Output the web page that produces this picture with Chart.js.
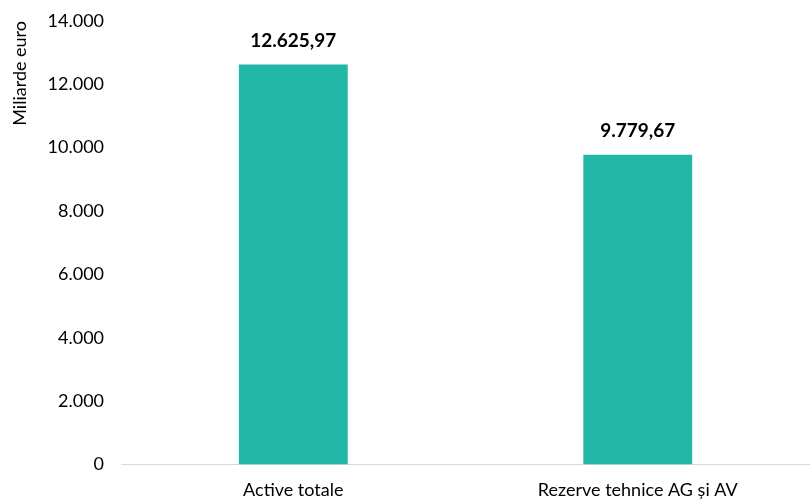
<!DOCTYPE html>
<html><head><meta charset="utf-8">
<script src="https://cdn.jsdelivr.net/npm/chart.js@4/dist/chart.umd.min.js"></script>
<style>html,body{margin:0;padding:0;background:#fff}#wrap{width:810px;height:501px}</style>
</head><body><div id="wrap"><canvas id="c" width="810" height="501"></canvas></div>
<script>
const categories = ["Active totale", "Rezerve tehnice AG și AV"];
const values = [12625.97, 9779.67];
const yTicks = [0, 2000, 4000, 6000, 8000, 10000, 12000, 14000];
const yTitle = "Miliarde euro";

const FONT = "Lato, 'Open Sans', sans-serif";
const fmtInt = v => Math.round(v).toString().replace(/\B(?=(\d{3})+(?!\d))/g, ".");
const fmtDec = v => { const p = v.toFixed(2).split("."); return p[0].replace(/\B(?=(\d{3})+(?!\d))/g, ".") + "," + p[1]; };

const labelPlugin = {
  id: "vlabels",
  afterDatasetsDraw(chart) {
    const ctx = chart.ctx;
    const meta = chart.getDatasetMeta(0);
    ctx.save();
    ctx.font = "bold 19px " + FONT;
    ctx.fillStyle = "#000";
    ctx.textAlign = "center";
    ctx.textBaseline = "middle";
    meta.data.forEach((bar, i) => {
      ctx.fillText(fmtDec(values[i]), bar.x, bar.y - 24);
    });
    ctx.restore();
  }
};

new Chart(document.getElementById("c"), {
  type: "bar",
  data: { labels: categories, datasets: [{ data: values, backgroundColor: "#22B8A8", borderWidth: 0, barPercentage: 0.316, categoryPercentage: 1 }] },
  options: {
    responsive: false, animation: false, devicePixelRatio: 1,
    layout: { padding: { top: 0, right: 0, left: 9, bottom: -15 } },
    plugins: { legend: { display: false }, tooltip: { enabled: false } },
    scales: {
      x: {
        grid: { display: false, drawTicks: false },
        border: { display: true, color: "#d9d9d9", width: 1 },
        ticks: { color: "#000", font: { family: FONT, size: 18 }, padding: 15 }
      },
      y: {
        min: 0, max: 14000,
        afterBuildTicks: s => { s.ticks = yTicks.map(v => ({ value: v })); },
        afterFit: s => { s.paddingTop = 21; },
        grid: { display: false, drawTicks: false },
        border: { display: false },
        title: { display: true, text: yTitle, align: "end", color: "#000", font: { family: FONT, size: 18 }, padding: { top: 0, bottom: 0 } },
        ticks: { color: "#000", font: { family: FONT, size: 18 }, padding: 17, callback: v => fmtInt(v) }
      }
    }
  },
  plugins: [labelPlugin]
});
</script></body></html>
